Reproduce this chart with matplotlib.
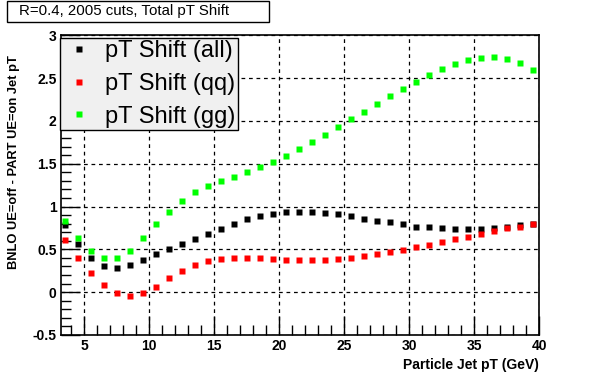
import numpy as np
import matplotlib
matplotlib.use("Agg")
import matplotlib.pyplot as plt
from matplotlib.patches import Rectangle
from matplotlib.ticker import MultipleLocator

plt.rcParams['font.family'] = ['Liberation Sans', 'DejaVu Sans']

# bin centres (GeV)
jet_pt = np.arange(3.5, 40.0, 1.0)

shift_all = [0.786, 0.558, 0.395, 0.302, 0.279, 0.314, 0.372, 0.442, 0.500, 0.558,
             0.616, 0.674, 0.733, 0.791, 0.849, 0.887, 0.918, 0.942, 0.942, 0.942,
             0.930, 0.910, 0.884, 0.860, 0.837, 0.814, 0.791, 0.767, 0.756, 0.744,
             0.733, 0.733, 0.733, 0.748, 0.759, 0.779, 0.791]
shift_qq = [0.605, 0.403, 0.221, 0.081, -0.012, -0.047, -0.012, 0.058, 0.163, 0.244,
            0.314, 0.360, 0.384, 0.395, 0.395, 0.395, 0.384, 0.372, 0.372, 0.372,
            0.372, 0.384, 0.395, 0.419, 0.442, 0.465, 0.488, 0.523, 0.547, 0.581,
            0.616, 0.640, 0.674, 0.709, 0.744, 0.767, 0.802]
shift_gg = [0.826, 0.628, 0.477, 0.395, 0.395, 0.477, 0.628, 0.791, 0.942, 1.070,
            1.174, 1.244, 1.302, 1.349, 1.407, 1.465, 1.523, 1.593, 1.674, 1.756,
            1.837, 1.930, 2.023, 2.105, 2.198, 2.291, 2.372, 2.453, 2.535, 2.605,
            2.663, 2.709, 2.733, 2.744, 2.721, 2.674, 2.593]

labels = ["pT Shift (all)", "pT Shift (qq)", "pT Shift (gg)"]
colors = ["black", "#ff0000", "#00ff00"]

W, H = 600, 373
fig = plt.figure(figsize=(6.0, 3.73), dpi=100)
ax = fig.add_axes([60.7/W, 1-335/H, (539.3-60.7)/W, (335-35.3)/H])

for y, lab, c in zip([shift_all, shift_qq, shift_gg], labels, colors):
    ax.plot(jet_pt, y, 's', color=c, ms=5, mec='none', label=lab)

ax.set_xlim(3.2, 40)
ax.set_ylim(-0.5, 3)
ax.xaxis.set_major_locator(MultipleLocator(5))
ax.xaxis.set_minor_locator(MultipleLocator(1))
ax.yaxis.set_major_locator(MultipleLocator(0.5))
ax.yaxis.set_minor_locator(MultipleLocator(0.1))
ax.grid(True, which='major', color='black', ls=(0, (3, 3)), lw=0.9)
ax.tick_params(which='both', direction='in', top=False, right=False,
               labelsize=10, width=1, pad=3)
ax.tick_params(which='major', length=14)
ax.tick_params(which='minor', length=7)
ax.set_yticks([-0.5, 0, 0.5, 1, 1.5, 2, 2.5, 3])
ax.set_yticklabels(["-0.5", "0", "0.5", "1", "1.5", "2", "2.5", "3"])
for t in ax.get_xticklabels() + ax.get_yticklabels():
    t.set_fontweight('bold')
for s in ax.spines.values():
    s.set_linewidth(1.2)

leg = ax.legend(loc='upper left', bbox_to_anchor=(60.3/W, 1-38/H), bbox_transform=fig.transFigure,
                fontsize=17, frameon=True, fancybox=False, edgecolor='black',
                facecolor='#f0f0f0', framealpha=1, borderpad=0.1, labelspacing=0.45,
                handlelength=1.4, handletextpad=0.4, borderaxespad=0, markerscale=0.9)
leg.get_frame().set_linewidth(1.0)

fig.text(539/W, 1-365/H, "Particle Jet pT (GeV)", ha='right', va='center',
         fontsize=10, fontweight='bold')
fig.text(14/W, 1-55/H, "BNLO UE=off - PART UE=on Jet pT", rotation=90,
         ha='center', va='top', fontsize=9.3, fontweight='bold')

fig.add_artist(Rectangle((6.7/W, 1-22.3/H), 262/W, 21.3/H, transform=fig.transFigure,
                         fill=False, edgecolor='black', lw=1.0))
fig.text(19/W, 1-11.5/H, "R=0.4, 2005 cuts, Total pT Shift", ha='left', va='center',
         fontsize=10.8)

fig.savefig("out.png", dpi=100)
